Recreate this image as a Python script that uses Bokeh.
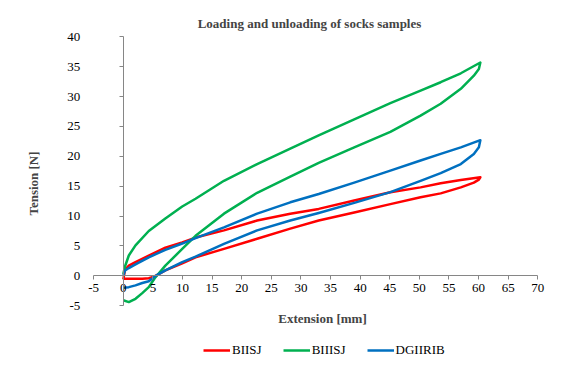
import math
from bokeh.plotting import figure
from bokeh.models import LinearAxis, Legend, LegendItem, Range1d, FixedTicker, Label
from bokeh.embed import file_html
from bokeh.resources import INLINE

# ---- data ----
title_text = "Loading and unloading of socks samples"
x_title = "Extension [mm]"
y_title = "Tension [N]"

x_ticks = [-5, 0, 5, 10, 15, 20, 25, 30, 35, 40, 45, 50, 55, 60, 65, 70]
y_ticks = [-5, 0, 5, 10, 15, 20, 25, 30, 35, 40]

series_names = ["BIISJ", "BIIISJ", "DGIIRIB"]

# loading branch (extension increasing)
x_loading = [0, 0.3, 0.93, 2.06, 4.3, 7.1, 9.95, 12.2, 17.0, 22.6, 28.2, 33.0,
             39.0, 45.1, 50.2, 53.6, 57.0, 60.3]
biisj_loading = [-0.6, 1.0, 1.7, 2.3, 3.4, 4.7, 5.6, 6.4, 7.6, 9.25, 10.4, 11.2,
                 12.6, 14.0, 14.8, 15.5, 16.05, 16.5]
biiisj_loading = [0.3, 1.6, 3.4, 5.1, 7.5, 9.6, 11.6, 12.9, 15.9, 18.7, 21.3, 23.5,
                  26.2, 28.9, 31.0, 32.4, 33.9, 35.7]
dgiirib_loading = [0.0, 0.9, 1.3, 1.9, 3.1, 4.35, 5.4, 6.3, 8.1, 10.4, 12.3, 13.7,
                   15.6, 17.6, 19.3, 20.4, 21.5, 22.7]

# unloading branch (extension decreasing)
x_unloading = [60.3, 60.05, 59.2, 57.0, 53.6, 50.2, 45.1, 39.0, 33.0, 28.2, 22.6,
               17.0, 12.2, 9.95, 7.1, 5.3, 4.3, 3.2, 2.06, 0.93, 0]
biisj_unloading = [16.5, 16.1, 15.6, 14.8, 13.8, 13.15, 12.0, 10.6, 9.25, 7.9, 6.2,
                   4.5, 3.1, 2.1, 0.9, -0.1, -0.4, -0.5, -0.5, -0.5, -0.5]
biiisj_unloading = [35.7, 34.6, 33.5, 31.3, 28.8, 26.8, 24.1, 21.5, 18.9, 16.6, 13.9,
                    10.4, 6.7, 4.5, 1.7, -0.4, -1.9, -2.9, -3.85, -4.4, -4.1]
dgiirib_unloading = [22.7, 21.5, 20.4, 18.7, 17.2, 15.9, 14.0, 12.2, 10.5, 9.25, 7.6,
                     5.35, 3.2, 2.3, 0.9, -0.1, -0.9, -1.2, -1.6, -1.9, -2.0]

colors = ["#FF0000", "#00B050", "#0070C0"]

FONT = "Liberation Serif"
GREY = "#868686"
W, H = 574, 381

p = figure(width=W, height=H, frame_width=W, frame_height=H,
           x_range=Range1d(-20.74, 76.2), y_range=Range1d(-17.69, 46.08),
           x_axis_type=None, y_axis_type=None,
           output_backend="svg", toolbar_location=None,
           min_border=0, min_border_left=0, min_border_right=0,
           min_border_top=0, min_border_bottom=0)
p.outline_line_color = None
p.background_fill_color = "white"
p.border_fill_color = "white"
p.xgrid.visible = False
p.ygrid.visible = False

# x axis crossing at y = 0
xaxis = LinearAxis(ticker=FixedTicker(ticks=x_ticks), fixed_location=0, bounds=(-5, 70))
xaxis.axis_line_color = GREY
xaxis.major_tick_line_color = GREY
xaxis.major_tick_out = 4
xaxis.major_tick_in = 0
xaxis.minor_tick_line_color = None
xaxis.major_label_text_font = FONT
xaxis.major_label_text_font_size = "13px"
xaxis.major_label_text_color = "black"
xaxis.major_label_standoff = 4
xaxis.major_label_overrides = {t: str(t) for t in x_ticks}
p.add_layout(xaxis, "below")

# y axis crossing at x = 0, labels pushed out to the left edge of the plot area
yaxis = LinearAxis(ticker=FixedTicker(ticks=y_ticks), fixed_location=0, bounds=(-5, 40))
yaxis.axis_line_color = GREY
yaxis.major_tick_line_color = GREY
yaxis.major_tick_out = 4
yaxis.major_tick_in = 0
yaxis.minor_tick_line_color = None
yaxis.major_label_text_font = FONT
yaxis.major_label_text_font_size = "13px"
yaxis.major_label_text_color = "black"
yaxis.major_label_standoff = 39
yaxis.major_label_overrides = {t: str(t) for t in y_ticks}
p.add_layout(yaxis, "left")

loads = [biisj_loading, biiisj_loading, dgiirib_loading]
unloads = [biisj_unloading, biiisj_unloading, dgiirib_unloading]
items = []
for name, col, ld, ul in zip(series_names, colors, loads, unloads):
    r = p.line(x_loading + x_unloading, ld + ul, line_color=col, line_width=2.5,
               line_join="round")
    items.append(LegendItem(label=name, renderers=[r]))

legend = Legend(items=items, orientation="horizontal", location=(203, 23))
legend.label_text_font = FONT
legend.label_text_font_size = "13px"
legend.label_text_color = "black"
legend.glyph_width = 27
legend.glyph_height = 14
legend.label_height = 14
legend.label_standoff = 2
legend.spacing = 21
legend.border_line_color = None
legend.background_fill_alpha = 0
legend.padding = 0
legend.margin = 0
p.add_layout(legend, "center")

# titles
p.add_layout(Label(x=309, y=H - 23, x_units="screen", y_units="screen",
                   text=title_text, text_font=FONT, text_font_style="bold",
                   text_font_size="13px", text_align="center", text_baseline="middle"))
p.add_layout(Label(x=322, y=H - 318, x_units="screen", y_units="screen",
                   text=x_title, text_font=FONT, text_font_style="bold",
                   text_font_size="13px", text_align="center", text_baseline="middle"))
p.add_layout(Label(x=33, y=H - 183, x_units="screen", y_units="screen",
                   text=y_title, text_font=FONT, text_font_style="bold",
                   text_font_size="13px", text_align="center", text_baseline="middle",
                   angle=math.pi / 2))

open("out.html", "w").write(file_html(p, INLINE))
